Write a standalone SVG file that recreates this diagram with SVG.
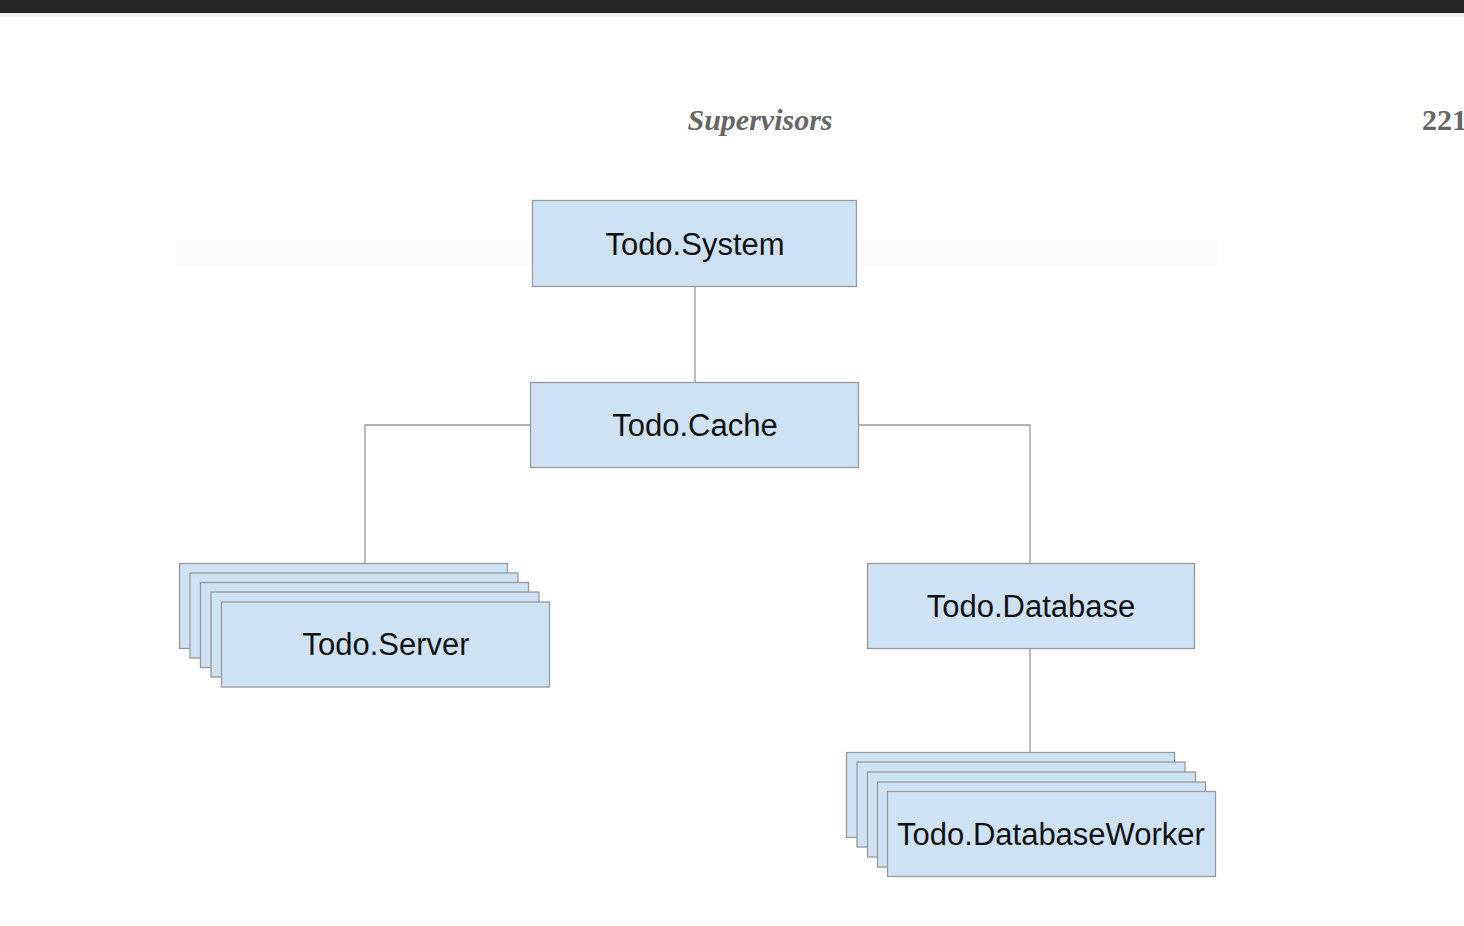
<svg xmlns="http://www.w3.org/2000/svg" width="1464" height="926" viewBox="0 0 1464 926">
<style>
.box{fill:#cfe2f3;stroke:#999;stroke-width:1.3}
.lbl{font-family:"Liberation Sans",Arial,sans-serif;font-size:31px;fill:#111;text-anchor:middle}
.conn{fill:none;stroke:#999;stroke-width:1.3}
.hdr{font-family:"Liberation Serif","Times New Roman",serif;font-weight:bold;font-size:30px;fill:#666}
.it{font-style:italic}
</style>
<rect x="0" y="0" width="1464" height="926" fill="#fff"/>
<rect x="0" y="0" width="1464" height="13" fill="#262626"/>
<rect x="0" y="13" width="1464" height="4" fill="#efefef"/>
<text class="hdr it" x="760" y="130" text-anchor="middle">Supervisors</text>
<text class="hdr" x="1422" y="130">221</text>
<rect x="176" y="240" width="1042" height="25" fill="#fcfcfc"/>
<g id="connectors">
<path class="conn" d="M695 286V382"/>
<path class="conn" d="M530 425H365V563"/>
<path class="conn" d="M859 425H1030V563"/>
<path class="conn" d="M1030 648V753"/>
</g>
<g id="system">
<rect class="box" x="532.5" y="200.5" width="324" height="86"/>
<text class="lbl" x="695" y="255">Todo.System</text>
</g>
<g id="cache">
<rect class="box" x="530.5" y="382.5" width="328" height="85"/>
<text class="lbl" x="695" y="436">Todo.Cache</text>
</g>
<g id="database">
<rect class="box" x="867.5" y="563.5" width="327" height="85"/>
<text class="lbl" x="1031" y="617">Todo.Database</text>
</g>
<g id="server">
<rect class="box" x="179.5" y="563.5" width="328" height="85"/>
<rect class="box" x="190" y="573" width="328" height="85"/>
<rect class="box" x="200.5" y="582.5" width="328" height="85"/>
<rect class="box" x="211" y="592" width="328" height="85"/>
<rect class="box" x="221.5" y="602" width="328" height="85"/>
<text class="lbl" x="386" y="655">Todo.Server</text>
</g>
<g id="worker">
<rect class="box" x="846.5" y="752.5" width="328" height="85"/>
<rect class="box" x="857" y="762" width="328" height="85"/>
<rect class="box" x="867.5" y="772" width="328" height="85"/>
<rect class="box" x="877.5" y="782" width="328" height="85"/>
<rect class="box" x="887.5" y="791.5" width="328" height="85"/>
<text class="lbl" x="1051" y="845">Todo.DatabaseWorker</text>
</g>
</svg>
